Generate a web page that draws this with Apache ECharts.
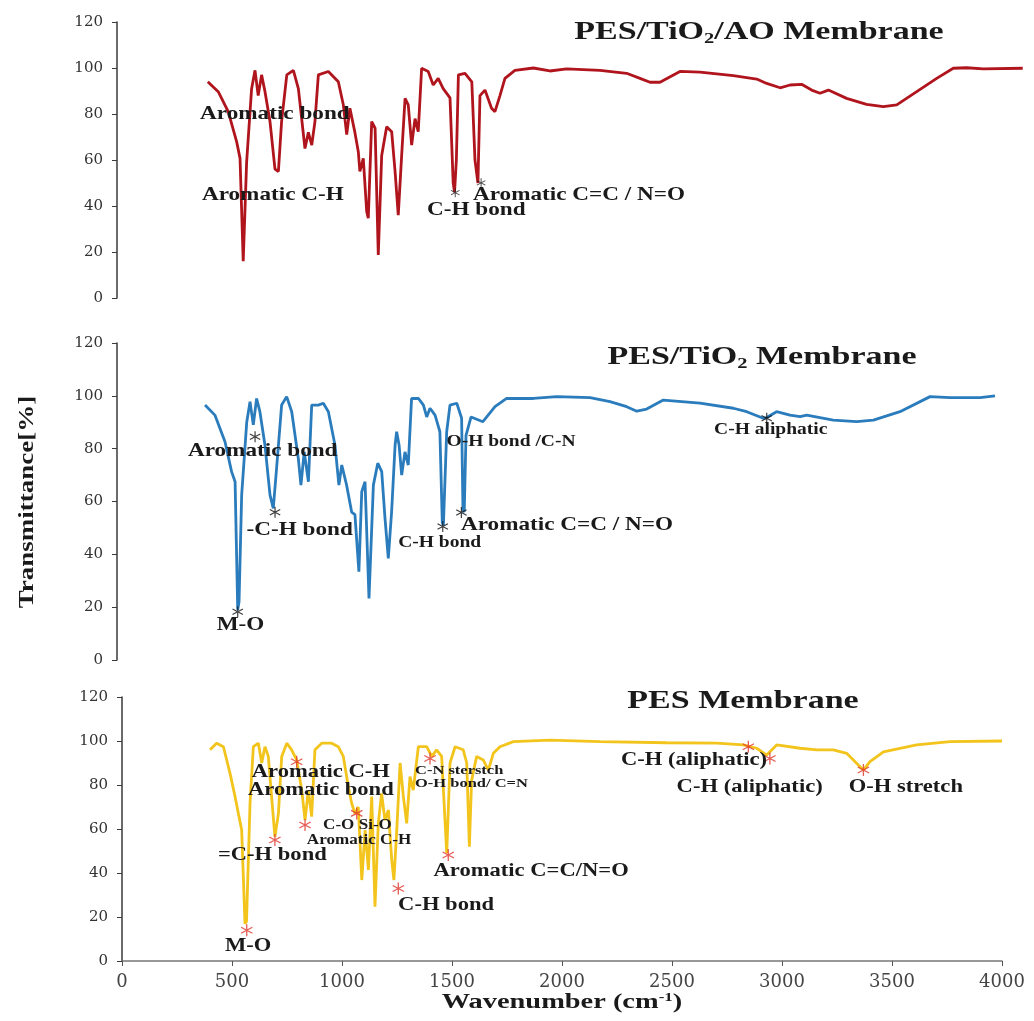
<!DOCTYPE html>
<html>
<head>
<meta charset="utf-8">
<script src="https://cdn.jsdelivr.net/npm/echarts@6/dist/echarts.min.js"></script>
<style>
  html, body { margin: 0; padding: 0; background: #fff; }
  #chart { width: 1034px; height: 1021px; }
</style>
</head>
<body>
<div id="chart"></div>
<script>
// FTIR spectra, [wavenumber, transmittance %]
const aoSpectrum = [
  [400,94],[446,89.7],[490,81],[527,68],[542,60.7],[556,16],[571,59],[593,91],[608,99],[622,88],
  [637,97],[652,89.7],[674,76.7],[696,56],[711,55],[725,76.7],[748,97],[777,99],[799,91],[828,65],
  [843,72],[858,66.5],[872,76.7],[887,97],[931,98.5],[975,94],[997,84],[1012,71],[1026,82.5],[1048,72],
  [1063,63.6],[1070,55],[1085,60.7],[1100,37.5],[1107,34.7],[1122,76.7],[1137,73.8],[1151,18.7],[1166,62],[1188,74.5],
  [1210,72.3],[1225,55],[1239,36],[1254,62],[1269,86.8],[1283,84],[1298,66.5],[1313,78],[1327,72.3],[1342,99.9],
  [1371,98.5],[1393,92.6],[1415,95.5],[1437,91],[1467,87],[1481,50],[1487,46],[1495,60],[1504,97],[1533,97.7],
  [1563,94],[1577,60],[1590,50],[1599,88],[1621,90.4],[1650,82.5],[1665,81],[1687,88],[1709,95.5],[1753,99],
  [1834,100],[1907,98.7],[1981,99.6],[2128,99],[2245,97.7],[2304,95.5],[2348,93.8],[2392,93.8],[2480,98.5],[2568,98.2],
  [2715,96.7],[2818,95.2],[2862,93.3],[2921,91.4],[2965,92.6],[3016,92.9],[3060,90.4],[3097,89],[3134,90.4],[3214,86.8],
  [3302,84.2],[3376,83.2],[3435,84],[3523,89.7],[3611,95.5],[3684,99.9],[3743,100.1],[3816,99.6],[3990,99.9]
];
const tio2Spectrum = [
  [401,96.5],[446,92.7],[492,82.6],[522,71.3],[538,67.5],[550,19],[556,22],[568,62.5],[591,90],[606,97.8],
  [621,89],[636,99],[651,94],[674,81.4],[697,62.5],[712,57.4],[727,72.5],[750,96.5],[773,99.7],[796,94],
  [826,76.3],[838,66.2],[853,78.8],[872,67.5],[887,96.5],[917,96.5],[940,97.2],[963,94],[993,81.4],[1011,66.2],
  [1024,73.8],[1046,66.2],[1069,56],[1084,55],[1102,33.4],[1115,63.7],[1130,67.5],[1148,23.3],[1168,66.2],[1188,74.5],
  [1206,71.3],[1221,53.6],[1236,38.5],[1251,56],[1267,81.4],[1274,86.4],[1285,81.4],[1297,70],[1312,78.8],[1327,73.8],
  [1342,99],[1373,99],[1396,96.5],[1411,92],[1426,95.3],[1449,92.7],[1471,86.4],[1482,52],[1487,51],[1502,86.4],
  [1517,96.5],[1548,97.2],[1570,91.5],[1576,57],[1582,56],[1590,85],[1613,92],[1667,90.2],[1722,95.9],[1775,99],
  [1897,99],[2003,99.7],[2155,99.3],[2246,97.8],[2322,95.9],[2368,94.2],[2413,95],[2489,98.4],[2656,97.2],[2808,95.3],
  [2869,94],[2944,91.5],[2960,91.8],[3005,94],[3066,92.7],[3112,92.1],[3142,92.7],[3263,90.8],[3370,90.2],[3446,90.8],
  [3567,94],[3704,99.7],[3795,99.3],[3932,99.3],[4000,100]
];
const pesSpectrum = [
  [400,96],[430,99],[461,97.4],[491,85.3],[514,74.7],[529,67],[544,59.5],[559,17],[566,18],[582,71.7],
  [597,97.4],[620,99],[635,90],[650,97.4],[665,93],[680,74.7],[695,56.5],[711,67],[726,93],[749,99],
  [771,96],[794,91.4],[817,77.7],[832,64],[847,77.7],[862,65.6],[877,96],[908,99],[953,99],[983,97.4],
  [1006,93],[1029,79.2],[1044,71.7],[1059,67],[1074,70],[1090,36.8],[1105,59.5],[1120,41.4],[1135,74.7],[1150,24.7],
  [1165,62.6],[1180,76.2],[1195,64],[1211,68.6],[1226,45.9],[1236,36.8],[1249,59.5],[1264,90],[1279,74.7],[1294,62.6],
  [1309,83.8],[1324,77.7],[1347,97.4],[1385,97.4],[1408,93],[1430,96],[1453,93],[1476,49],[1491,90],[1514,97.4],
  [1551,96],[1567,90],[1579,52],[1589,82],[1612,93],[1642,91.4],[1665,86.8],[1688,94.4],[1718,97.4],[1779,99.7],
  [1945,100.4],[2173,99.7],[2476,99.2],[2703,99],[2824,98.2],[2885,96.7],[2930,93.6],[2976,98.2],[3082,96.7],[3158,96],
  [3233,96],[3294,94.4],[3339,89.9],[3370,86.8],[3400,90.6],[3461,95.1],[3612,98.2],[3764,99.7],[4000,100]
];

// peak markers (*)
const aoStars = [[1490,45.8],[1604,50.1]];
const tio2Stars = [[550,18.3],[629,84.5],[720,55.9],[1484,50.5],[1569,55.8],[2960,91.5]];
const pesStars = [[567,14],[695,55],[794,90.6],[832,61.8],[1067,67.1],[1400,92],[1483,48.2],[1256,33],[2847,97.4],[2945,92],[3370,86.8]];

// peak assignments, anchored at [wavenumber, transmittance] (left edge of the text)
const aoNotes = [[366,80,'Aromatic bond'],[374,44.8,'Aromatic C-H'],[1366,38.3,'C-H bond'],[1568,44.8,'Aromatic C=C / N=O']];
const tio2Notes = [[323,79,'Aromatic bond'],[590,49.2,'-C-H bond'],[454,13.2,'M-O'],[1567,51,'Aromatic C=C / N=O']];
const tio2SmallNotes = [[1281,44.4,'C-H bond'],[1501,82.6,'O-H bond /C-N'],[2720,87,'C-H aliphatic']];
const pesNotes = [[590,86,'Aromatic C-H'],[573,77.7,'Aromatic bond'],[436,48.2,'=C-H bond'],[468,6.8,'M-O'],
  [1255,25.5,'C-H bond'],[1416,40.6,'Aromatic C=C/N=O'],[2268,91.4,'C-H (aliphatic)'],[2521,79.2,'C-H (aliphatic)'],[3303,79.2,'O-H stretch']];
const pesSmallNotes = [[914,61.8,'C-O Si-O'],[840,55,'Aromatic C-H']];
const pesTinyNotes = [[1332,86.8,'C-N sterstch'],[1332,80.5,'O-H bond/ C=N']];

const panelTitles = ['PES/TiO{sub|2}/AO Membrane', 'PES/TiO{sub|2} Membrane', 'PES Membrane'];

const STAR = 'path://M9,0L11,0L11,20L9,20Z M1.84,4.13L19.16,14.13L18.16,15.87L0.84,5.87Z M0.84,14.13L18.16,4.13L19.16,5.87L1.84,15.87Z';
const SERIF = '"Liberation Serif", "Times New Roman", serif';

const grids = [
  { left: 117, top: 22, width: 908, height: 276 },
  { left: 117, top: 343, width: 878, height: 317 },
  { left: 122, top: 697, width: 880, height: 264 }
];

const yAxes = grids.map((g, i) => ({
  type: 'value', gridIndex: i, min: 0, max: 120, interval: 20,
  axisLine: { show: true, lineStyle: { color: '#3a3a3a', width: 1.5 } },
  axisTick: { show: true, length: 5, lineStyle: { color: '#3a3a3a' } },
  splitLine: { show: false },
  axisLabel: { fontFamily: '"DejaVu Serif", serif', fontSize: 15, color: '#333', margin: 14 }
}));

const xAxes = grids.map((g, i) => ({
  type: 'value', gridIndex: i, min: 0, max: 4000, interval: 500,
  show: i === 2,
  axisLine: { show: true, onZero: false, lineStyle: { color: '#777', width: 1.5 } },
  axisTick: { show: true, length: 5, lineStyle: { color: '#555' } },
  splitLine: { show: false },
  axisLabel: {
    fontFamily: '"DejaVu Serif", serif', fontSize: 18, color: '#444', margin: 12,
    formatter: v => String(v)
  }
}));

const spectra = [aoSpectrum, tio2Spectrum, pesSpectrum];
const lineColors = ['#b0141c', '#2a7cbc', '#f2c41c'];
const stars = [aoStars, tio2Stars, pesStars];
const starColors = ['#222', '#111', '#e0362c'];
const starSizes = [9, 11, 12];

const series = [];
spectra.forEach((data, i) => {
  series.push({
    type: 'line', xAxisIndex: i, yAxisIndex: i, data,
    showSymbol: false, symbol: 'none',
    lineStyle: { color: lineColors[i], width: 2.8 },
    z: 2
  });
});
stars.forEach((data, i) => {
  series.push({
    type: 'scatter', xAxisIndex: i, yAxisIndex: i, data,
    symbol: STAR, symbolSize: starSizes[i],
    itemStyle: { color: starColors[i] },
    z: 4
  });
});

const chart = echarts.init(document.getElementById('chart'));
chart.setOption({
  animation: false,
  backgroundColor: '#fff',
  grid: grids,
  xAxis: xAxes,
  yAxis: yAxes,
  series
});

function notes(i, list, size, scaleX) {
  return list.map(([x, y, text]) => {
    const [px, py] = chart.convertToPixel({ xAxisIndex: i, yAxisIndex: i }, [x, y]);
    return {
      type: 'text', x: px, y: py, scaleX, silent: true, z: 10,
      style: {
        text, fill: '#1a1a1a', fontFamily: SERIF, fontWeight: 'bold', fontSize: size,
        align: 'left', verticalAlign: 'middle', textAlign: 'left', textVerticalAlign: 'middle'
      }
    };
  });
}

const titlePos = [[759, 33], [762, 358], [743, 702]];
const titles = panelTitles.map((t, i) => ({
  type: 'text', x: titlePos[i][0], y: titlePos[i][1], scaleX: 1.36, silent: true,
  style: {
    text: t, fill: '#1a1a1a', fontFamily: SERIF, fontWeight: 'bold', fontSize: 25,
    align: 'center', verticalAlign: 'middle', textAlign: 'center', textVerticalAlign: 'middle',
    rich: { sub: { fontFamily: SERIF, fontWeight: 'bold', fontSize: 15, padding: [12, 0, 0, 0] } }
  }
}));

const axisNames = [
  {
    type: 'text', x: 562, y: 1003, scaleX: 1.42, silent: true,
    style: {
      text: 'Wavenumber (cm{sup|-1})', fill: '#1a1a1a', fontFamily: SERIF, fontWeight: 'bold', fontSize: 20,
      align: 'center', verticalAlign: 'middle', textAlign: 'center', textVerticalAlign: 'middle',
      rich: { sup: { fontFamily: SERIF, fontWeight: 'bold', fontSize: 12, padding: [0, 0, 10, 0] } }
    }
  },
  {
    type: 'text', x: 28, y: 502, rotation: Math.PI / 2, scaleX: 1.35, silent: true,
    style: {
      text: 'Transmittance[%]', fill: '#1a1a1a', fontFamily: SERIF, fontWeight: 'bold', fontSize: 20,
      align: 'center', verticalAlign: 'middle', textAlign: 'center', textVerticalAlign: 'middle'
    }
  }
];

chart.setOption({
  graphic: [].concat(
    titles,
    axisNames,
    notes(0, aoNotes, 19, 1.22),
    notes(1, tio2Notes, 19, 1.22),
    notes(1, tio2SmallNotes, 16, 1.22),
    notes(2, pesNotes, 18.5, 1.22),
    notes(2, pesSmallNotes, 14, 1.22),
    notes(2, pesTinyNotes, 13.5, 1.22)
  )
});
</script>
</body>
</html>
